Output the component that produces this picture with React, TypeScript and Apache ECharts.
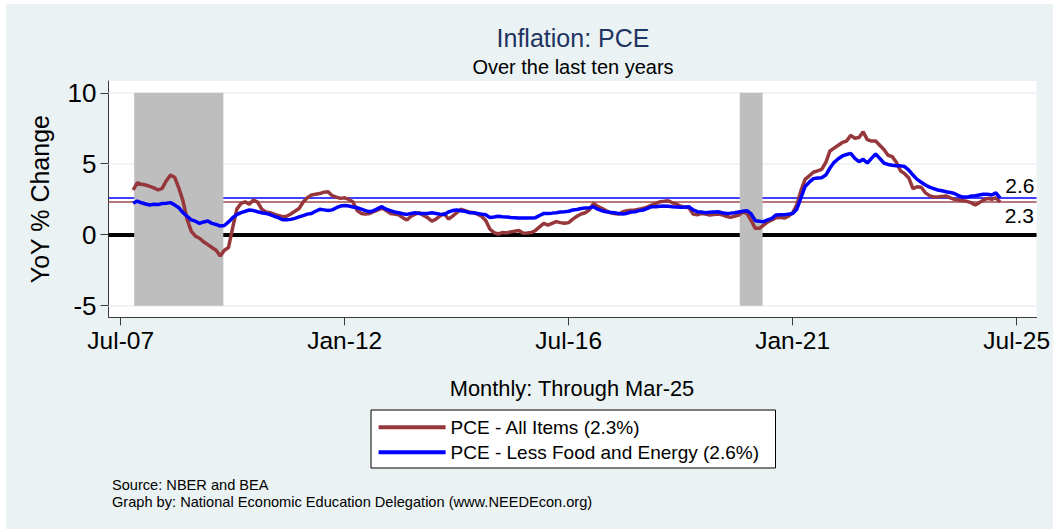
import React, { useEffect, useRef } from "react";
import * as echarts from "echarts";

// ---------- data ----------
const MONTHS = ["Jan", "Feb", "Mar", "Apr", "May", "Jun", "Jul", "Aug", "Sep", "Oct", "Nov", "Dec"];
// month offset counted from Jul-07
const monthIndex = (label: string): number => {
  const [m, y] = label.split("-");
  return (2000 + Number(y) - 2007) * 12 + MONTHS.indexOf(m) - 6;
};

const xTickLabels = ["Jul-07", "Jan-12", "Jul-16", "Jan-21", "Jul-25"];
const yTickValues = [-5, 0, 5, 10];
const firstMonth = "Oct-07";
const lastMonth = "Mar-25";

// NBER recessions (start, end)
const recessions = [
  ["Dec-07", "Jun-09"],
  ["Feb-20", "Apr-20"],
];

// PCE - All Items, YoY % change, monthly Oct-07 .. Mar-25
const allItems = [
  3.15, 3.66, 3.55, 3.5, 3.4, 3.3, 3.15, 3.27, 3.8, 4.2,
  4.05, 3.3, 2.4, 1.1, 0.25, -0.1, -0.25, -0.5, -0.7, -0.9,
  -1.1, -1.5, -1.1, -0.9, 0.5, 1.8, 2.2, 2.32, 2.15, 2.44,
  2.3, 1.8, 1.6, 1.55, 1.45, 1.35, 1.27, 1.3, 1.46, 1.65,
  1.85, 2.3, 2.6, 2.8, 2.85, 2.9, 3.0, 3.03, 2.75, 2.65,
  2.56, 2.6, 2.49, 2.3, 1.7, 1.5, 1.45, 1.5, 1.62, 1.75,
  1.86, 1.7, 1.5, 1.45, 1.4, 1.2, 1.04, 1.3, 1.45, 1.55,
  1.35, 1.2, 0.95, 1.1, 1.32, 1.5, 1.1, 1.3, 1.55, 1.79,
  1.7, 1.6, 1.55, 1.45, 1.3, 1.0, 0.4, 0.15, 0.05, 0.15,
  0.12, 0.2, 0.25, 0.3, 0.1, 0.12, 0.15, 0.3, 0.55, 0.8,
  0.68, 0.8, 0.92, 0.85, 0.8, 0.85, 1.1, 1.3, 1.46, 1.55,
  1.75, 2.21, 2.0, 1.86, 1.7, 1.55, 1.5, 1.45, 1.6, 1.69,
  1.72, 1.74, 1.8, 1.86, 1.95, 2.09, 2.2, 2.32, 2.35, 2.39,
  2.25, 2.16, 2.0, 1.95, 1.9, 1.45, 1.4, 1.5, 1.45, 1.39,
  1.42, 1.46, 1.4, 1.3, 1.22, 1.3, 1.39, 1.6, 1.5, 1.0,
  0.45, 0.45, 0.68, 0.9, 1.04, 1.2, 1.22, 1.17, 1.3, 1.55,
  2.1, 3.1, 3.9, 4.15, 4.4, 4.5, 4.6, 5.1, 5.9, 6.1,
  6.3, 6.5, 6.6, 7.0, 6.8, 6.85, 7.25, 6.7, 6.6, 6.6,
  6.3, 6.0, 5.6, 5.5, 5.1, 4.5, 4.3, 4.0, 3.25, 3.38,
  3.35, 2.95, 2.75, 2.65, 2.65, 2.7, 2.73, 2.6, 2.49, 2.45,
  2.4, 2.35, 2.26, 2.09, 2.26, 2.44, 2.56, 2.5, 2.6, 2.3,
];

// PCE - Less Food and Energy, YoY % change, monthly Oct-07 .. Mar-25
const lessFoodEnergy = [
  2.21, 2.37, 2.25, 2.16, 2.09, 2.14, 2.12, 2.2, 2.22, 2.26,
  2.1, 1.9, 1.55, 1.3, 1.05, 0.95, 0.8, 0.9, 0.96, 0.8,
  0.72, 0.61, 0.65, 0.9, 1.2, 1.42, 1.55, 1.65, 1.74, 1.7,
  1.62, 1.55, 1.5, 1.42, 1.3, 1.2, 1.05, 1.05, 1.08, 1.15,
  1.25, 1.35, 1.45, 1.5, 1.65, 1.79, 1.75, 1.7, 1.75, 1.9,
  2.02, 2.05, 2.02, 1.95, 1.9, 1.8, 1.7, 1.62, 1.7, 1.85,
  1.97, 1.8, 1.7, 1.6, 1.55, 1.48, 1.43, 1.5, 1.55, 1.5,
  1.5, 1.5, 1.55, 1.5, 1.45, 1.43, 1.6, 1.7, 1.74, 1.69,
  1.65, 1.55, 1.55, 1.5, 1.45, 1.4, 1.22, 1.25, 1.3, 1.27,
  1.25, 1.22, 1.2, 1.18, 1.17, 1.17, 1.17, 1.2, 1.35, 1.5,
  1.5, 1.52, 1.55, 1.6, 1.62, 1.65, 1.74, 1.78, 1.85, 1.88,
  1.9, 1.97, 1.8, 1.69, 1.62, 1.58, 1.55, 1.5, 1.46, 1.5,
  1.6, 1.62, 1.7, 1.74, 1.85, 1.97, 1.97, 2.0, 2.02, 2.0,
  1.97, 1.95, 1.93, 1.93, 1.97, 1.75, 1.62, 1.6, 1.55, 1.58,
  1.6, 1.62, 1.55, 1.5, 1.52, 1.55, 1.6, 1.65, 1.69, 1.46,
  0.99, 0.95, 0.92, 1.05, 1.15, 1.39, 1.4, 1.4, 1.45, 1.5,
  1.8, 2.6, 3.4, 3.7, 3.95, 4.0, 4.02, 4.2, 4.7, 5.1,
  5.35, 5.55, 5.65, 5.73, 5.38, 5.15, 5.31, 5.05, 5.38, 5.68,
  5.38, 5.05, 4.95, 4.9, 4.86, 4.85, 4.8, 4.55, 4.2, 3.9,
  3.7, 3.5, 3.35, 3.25, 3.15, 3.1, 3.03, 2.98, 2.9, 2.75,
  2.65, 2.65, 2.72, 2.75, 2.8, 2.85, 2.85, 2.8, 2.95, 2.6,
];

// ---------- styling ----------
const FONT = "'Liberation Sans', Arial, Helvetica, sans-serif";
const RED = "#96373C";
const BLUE = "#0000FF";
const BG = "#EAF2F3";
const AXIS = "#3a3a3a";
const RECESSION_PAD = 1.75; // months of bar half-width around recession dates

export default function App() {
  const ref = useRef<HTMLDivElement>(null);

  useEffect(() => {
    if (!ref.current) return;
    const chart = echarts.init(ref.current, undefined, { renderer: "svg" });

    const start = monthIndex(firstMonth);
    const allData = allItems.map((v, i) => [start + i, v]);
    const coreData = lessFoodEnergy.map((v, i) => [start + i, v]);
    const lastAll = allItems[allItems.length - 1];
    const lastCore = lessFoodEnergy[lessFoodEnergy.length - 1];
    const nameAll = `PCE - All Items (${lastAll}%)`;
    const nameCore = `PCE - Less Food and Energy (${lastCore}%)`;
    const tickMonths = xTickLabels.map(monthIndex);

    const option: any = {
      animation: false,
      backgroundColor: BG,
      textStyle: { fontFamily: FONT },
      title: [
        {
          text: "Inflation: PCE",
          left: 567,
          top: 21,
          padding: 0,
          textAlign: "center",
          textStyle: { fontFamily: FONT, fontSize: 25, fontWeight: "normal", color: "#1E3461" },
        },
        {
          text: "Over the last ten years",
          left: 567,
          top: 53,
          padding: 0,
          textAlign: "center",
          textStyle: { fontFamily: FONT, fontSize: 20, fontWeight: "normal", color: "#000" },
        },
        {
          text: `Monthly: Through ${lastMonth}`,
          left: 566,
          top: 373,
          padding: 0,
          textAlign: "center",
          textStyle: { fontFamily: FONT, fontSize: 21.8, fontWeight: "normal", color: "#000" },
        },
        {
          text: "Source: NBER and BEA\nGraph by: National Economic Education Delegation (www.NEEDEcon.org)",
          left: 106,
          top: 472.6,
          padding: 0,
          textStyle: { fontFamily: FONT, fontSize: 14.6, lineHeight: 16.7, fontWeight: "normal", color: "#000" },
        },
      ],
      graphic: [
        {
          type: "rect",
          shape: { x: 365, y: 406, width: 404.5, height: 58 },
          style: { fill: "#fff", stroke: "#000", lineWidth: 1 },
          silent: true,
        },
      ],
      legend: {
        data: [nameAll, nameCore],
        orient: "vertical",
        left: 372.6,
        top: 413.8,
        padding: 0,
        itemWidth: 67,
        itemHeight: 4,
        itemGap: 6,
        icon: "rect",
        selectedMode: false,
        textStyle: { fontFamily: FONT, fontSize: 19, color: "#000" },
      },
      grid: {
        left: 102.5,
        right: 16.3,
        top: 77,
        bottom: 211.7,
        show: true,
        backgroundColor: "#fff",
        borderWidth: 0,
      },
      xAxis: {
        type: "value",
        min: -2.94,
        max: 220.8,
        axisLine: { show: true, onZero: false, lineStyle: { color: AXIS, width: 1 } },
        axisTick: { show: true, length: 8, customValues: tickMonths, lineStyle: { color: AXIS, width: 1 } },
        axisLabel: {
          customValues: tickMonths,
          formatter: (v: number) => xTickLabels[tickMonths.indexOf(Math.round(v))] ?? "",
          fontFamily: FONT,
          fontSize: 24.5,
          color: "#000",
          margin: 11,
        },
        splitLine: { show: false },
      },
      yAxis: {
        type: "value",
        min: -5.82,
        max: 10.83,
        name: "YoY % Change",
        nameLocation: "middle",
        nameRotate: 90,
        nameGap: 56,
        nameTextStyle: { fontFamily: FONT, fontSize: 25, color: "#000" },
        axisLine: { show: true, onZero: false, lineStyle: { color: AXIS, width: 1 } },
        axisTick: { show: true, length: 8, customValues: yTickValues, lineStyle: { color: AXIS, width: 1 } },
        axisLabel: {
          customValues: yTickValues,
          fontFamily: FONT,
          fontSize: 26,
          color: "#000",
          margin: 12,
        },
        splitLine: { show: false },
      },
      series: [
        {
          name: nameAll,
          type: "line",
          data: allData,
          showSymbol: false,
          symbol: "none",
          z: 3,
          lineStyle: { color: RED, width: 3.5 },
          itemStyle: { color: RED },
          silent: true,
          markArea: {
            silent: true,
            z: 1.5,
            itemStyle: { color: "#BEBEBE", opacity: 1 },
            label: { show: false },
            data: recessions.map(([s, e]) => [
              { xAxis: monthIndex(s) - RECESSION_PAD, yAxis: -5 },
              { xAxis: monthIndex(e) + RECESSION_PAD, yAxis: 10 },
            ]),
          },
          markLine: {
            silent: true,
            z: 1,
            symbol: ["none", "none"],
            label: { show: false },
            data: [
              ...yTickValues
                .filter((v) => v !== 0)
                .map((v) => ({ yAxis: v, lineStyle: { color: BG, width: 1.5, type: "solid" } })),
              { yAxis: 0, lineStyle: { color: "#000", width: 4, type: "solid" } },
              {
                yAxis: lastCore,
                lineStyle: { color: BLUE, width: 1.5, type: "solid" },
                label: {
                  show: true,
                  position: "insideEndTop",
                  distance: 2,
                  formatter: "{c}",
                  fontFamily: FONT,
                  fontSize: 21,
                  color: "#000",
                },
              },
              {
                yAxis: lastAll,
                lineStyle: { color: "#A34A4E", width: 1.5, type: "solid" },
                label: {
                  show: true,
                  position: "insideEndBottom",
                  distance: 2.5,
                  formatter: "{c}",
                  fontFamily: FONT,
                  fontSize: 21,
                  color: "#000",
                },
              },
            ],
          },
        },
        {
          name: nameCore,
          type: "line",
          data: coreData,
          showSymbol: false,
          symbol: "none",
          z: 3,
          silent: true,
          lineStyle: { color: BLUE, width: 3.5 },
          itemStyle: { color: BLUE },
        },
      ],
    };

    chart.setOption(option);
    return () => chart.dispose();
  }, []);

  return (
    <div style={{ position: "fixed", left: 0, top: 0, width: 1053, height: 529, background: "#fff" }}>
      <div ref={ref} style={{ position: "absolute", left: 6, top: 4, width: 1047, height: 525 }} />
    </div>
  );
}
